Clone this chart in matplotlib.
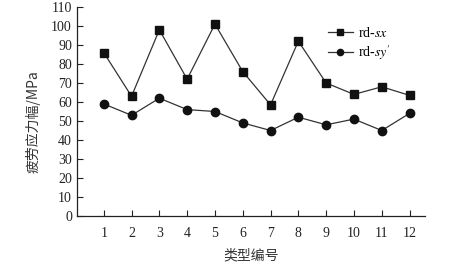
import numpy as np
import matplotlib.pyplot as plt

plt.rcParams['font.family'] = ['Liberation Serif', 'Noto Sans CJK SC']
plt.rcParams['mathtext.fontset'] = 'stix'

types = np.arange(1, 13)
rd_sx = [86, 63, 98, 72, 101, 76, 58.5, 92, 70, 64, 68, 63.5]
rd_sy = [59, 53, 62, 56, 55, 49, 45, 52, 48, 51, 45, 54]

fig = plt.figure(figsize=(4.71, 2.69), dpi=100)
ax = fig.add_axes([0.163, 0.197, 0.739, 0.777])

ax.plot(types, rd_sx, '-', color='#333333', lw=0.9, marker='s', ms=6,
        mfc='#111111', mec='#111111', label='rd-$sx$')
ax.plot(types, rd_sy, '-', color='#333333', lw=0.9, marker='o', ms=6,
        mfc='#111111', mec='#111111', label="rd-$sy'$")

ax.set_xlim(0.03, 12.55)
ax.set_ylim(0, 110)
ax.set_xticks(types)
ax.set_yticks(np.arange(0, 111, 10))
ax.tick_params(direction='in', labelsize=10, length=4, width=0.8, colors='#222222')
ax.tick_params(axis='x', pad=8)
for s in ['top', 'right']:
    ax.spines[s].set_visible(False)
for s in ['left', 'bottom']:
    ax.spines[s].set_linewidth(0.9)
    ax.spines[s].set_color('#222222')

ax.set_xlabel('类型编号', fontsize=10, family='Noto Sans CJK SC', color='#333333', labelpad=6)
ax.set_ylabel('疲劳应力幅/MPa', fontsize=10, family=['Noto Sans CJK SC'], color='#333333')
ax.yaxis.set_label_coords(-0.105, 0.45)

ax.legend(loc='upper left', bbox_to_anchor=(0.685, 0.97), frameon=False, fontsize=10,
          handlelength=1.8, markerscale=0.75, labelspacing=0.25, handletextpad=0.4)

fig.savefig('out.png', dpi=100)
